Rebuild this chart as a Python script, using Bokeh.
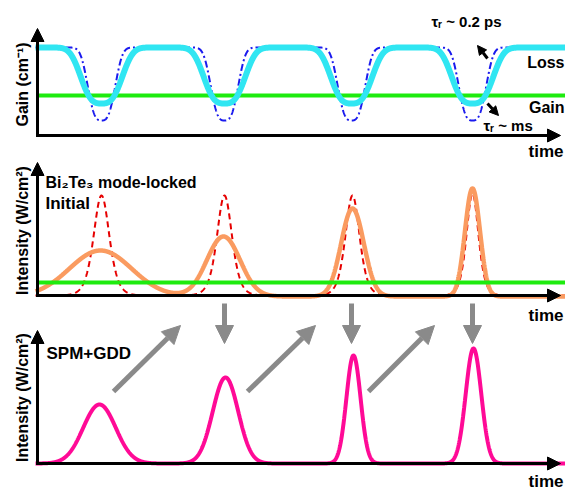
import numpy as np
from bokeh.plotting import figure
from bokeh.models import Range1d, Arrow, NormalHead, Label
from bokeh.embed import file_html
from bokeh.resources import INLINE

# ---------------- data (canvas units) ----------------
# panel 1: saturable absorber loss dips and constant gain
loss_level = 47
gain_level_1 = 95
dip_centers = [101, 224, 351, 472]
cyan_dip_bottom = 103
cyan_dip_width = 24
blue_dip_bottom = 120
blue_dip_width = 16

# panel 2: initial pulses (red dashed) and mode-locked pulses (orange)
base_2 = 295
gain_level_2 = 282
red_centers = [101, 224, 352, 472]
red_peaks = [195, 195, 195, 193]
red_widths = [10.5, 10, 9.5, 8]
orange_centers = [100, 223, 352, 472]
orange_peaks = [250, 236, 208, 188]
orange_widths = [44, 23.5, 16, 10.6]

# panel 3: SPM+GDD pulses
base_3 = 463
magenta_centers = [99, 225, 353, 473]
magenta_peaks = [404, 377, 355, 348]
magenta_widths = [23, 18, 10, 11]

# ---------------- figure ----------------
W, H = 565, 490
p = figure(width=W, height=H, x_range=Range1d(0, W), y_range=Range1d(H, 0),
           output_backend="svg", toolbar_location=None, min_border=0)
p.axis.visible = False
p.grid.visible = False
p.outline_line_color = None
p.background_fill_color = "white"
p.border_fill_color = "white"

FONT = "Liberation Sans"
x = np.linspace(35, 565, 2500)


def dips(level, bottom, width, centers, power=3):
    y = np.full_like(x, float(level))
    for c in centers:
        y += (bottom - level) * np.exp(-np.abs((x - c) / width) ** power)
    return y


def gauss_pulses(base, centers, peaks, widths):
    y = np.full_like(x, float(base))
    for c, pk, w in zip(centers, peaks, widths):
        y += (pk - base) * np.exp(-((x - c) / w) ** 2)
    return y


def sech2_pulses(base, centers, peaks, widths):
    y = np.full_like(x, float(base))
    for c, pk, w in zip(centers, peaks, widths):
        y += (pk - base) / np.cosh((x - c) / w) ** 2
    return y


def axis_arrows(x0, y_top, y_axis, x_end):
    p.add_layout(Arrow(x_start=x0, y_start=y_axis + 1.5, x_end=x0, y_end=y_top,
                       line_width=3, line_color="black",
                       end=NormalHead(size=13, fill_color="black", line_color="black")))
    p.add_layout(Arrow(x_start=x0 - 1.5, y_start=y_axis, x_end=x_end, y_end=y_axis,
                       line_width=3, line_color="black",
                       end=NormalHead(size=13, fill_color="black", line_color="black")))


# ---- panel 1 ----
p.line([37, 565], [gain_level_1, gain_level_1], line_color="#1EEB0F", line_width=4)
p.line(x, dips(loss_level, blue_dip_bottom, blue_dip_width, dip_centers),
       line_color="#1A1AEE", line_width=2, line_dash="7 3 2 3")
p.line(x, dips(loss_level, cyan_dip_bottom, cyan_dip_width, dip_centers),
       line_color="#30E6F2", line_width=6)
axis_arrows(37, 28, 135, 560)

# ---- panel 2 ----
p.line(x, sech2_pulses(base_2, red_centers, red_peaks, red_widths),
       line_color="#E60000", line_width=2, line_dash="6 4")
axis_arrows(37, 162, 295, 560)
p.line(x, gauss_pulses(base_2 + 1, orange_centers, orange_peaks, orange_widths),
       line_color="#FA9B60", line_width=4.5)
p.line([37, 565], [gain_level_2, gain_level_2], line_color="#1EEB0F", line_width=4)

# ---- panel 3 ----
axis_arrows(37, 330, 463, 560)
p.line(x, gauss_pulses(base_3, magenta_centers, magenta_peaks, magenta_widths),
       line_color="#FF0A96", line_width=4)

# ---- gray process arrows ----
gray = "#8A8A8A"
vert_x = [224, 351, 472]
for vx in vert_x:
    p.add_layout(Arrow(x_start=vx, y_start=303, x_end=vx, y_end=343,
                       line_width=5, line_color=gray,
                       end=NormalHead(size=18, fill_color=gray, line_color=gray)))
diag_start_x = [113, 247, 368]
diag_end_x = [180, 315, 434]
for xs, xe in zip(diag_start_x, diag_end_x):
    p.add_layout(Arrow(x_start=xs, y_start=391, x_end=xe, y_end=325,
                       line_width=5, line_color=gray,
                       end=NormalHead(size=18, fill_color=gray, line_color=gray)))

# ---- small black arrows (recovery times) ----
p.add_layout(Arrow(x_start=487, y_start=58, x_end=477, y_end=45, line_width=3,
                   line_color="black", end=NormalHead(size=9, fill_color="black")))
p.add_layout(Arrow(x_start=487, y_start=103, x_end=498, y_end=115, line_width=3,
                   line_color="black", end=NormalHead(size=9, fill_color="black")))


# ---- texts ----
def lab(xx, yy, t, size=17, align="left", angle=0.0, baseline="middle"):
    p.add_layout(Label(x=xx, y=yy, text=t, text_font=FONT, text_font_style="bold",
                       text_font_size=f"{size}px", text_align=align,
                       text_baseline=baseline, angle=angle, text_color="black"))


lab(563, 151, "time", align="right")
lab(563, 315, "time", align="right")
lab(563, 481, "time", align="right")
lab(564, 62, "Loss", size=16, align="right")
lab(564, 107, "Gain", size=16, align="right")
lab(431, 21, "τᵣ ~ 0.2 ps", size=15)
lab(483, 125, "τᵣ ~ ms", size=15)
lab(45, 182, "Bi₂Te₃ mode-locked", size=16)
lab(45, 203, "Initial", size=17)
lab(46, 353, "SPM+GDD", size=17)
lab(22, 84, "Gain (cm⁻¹)", size=16, align="center", angle=np.pi / 2)
lab(22, 230, "Intensity (W/cm²)", size=16, align="center", angle=np.pi / 2)
lab(22, 397, "Intensity (W/cm²)", size=16, align="center", angle=np.pi / 2)

open("out.html", "w").write(file_html(p, INLINE))
